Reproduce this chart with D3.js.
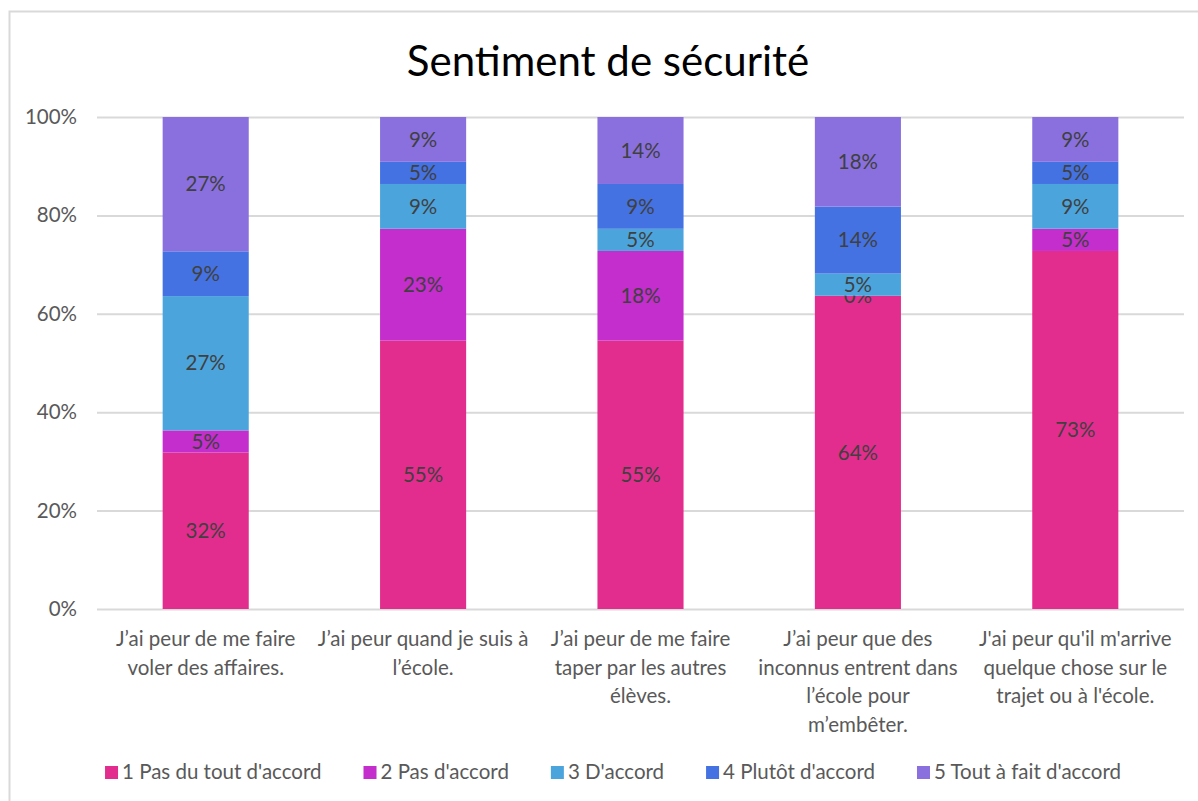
<!DOCTYPE html>
<html>
<head>
<meta charset="utf-8">
<script src="https://cdn.jsdelivr.net/npm/d3@7"></script>
<style>
    body { margin: 0; background: #fff; }
    svg { display: block; font-family: Lato, "Open Sans", sans-serif; }
</style>
</head>
<body>
<svg id="chart" width="1198" height="801"></svg>
<script>
// categories (lines as they wrap under each bar)
var categories = ['q1', 'q2', 'q3', 'q4', 'q5']
var categoryLines = [
    ['J’ai peur de me faire', 'voler des affaires.'],
    ['J’ai peur quand je suis à', 'l’école.'],
    ['J’ai peur de me faire', 'taper par les autres', 'élèves.'],
    ['J’ai peur que des', 'inconnus entrent dans', 'l’école pour', 'm’embêter.'],
    ["J'ai peur qu'il m'arrive", 'quelque chose sur le', "trajet ou à l'école."]
]

var seriesNames = ['1 Pas du tout d\'accord', '2 Pas d\'accord', '3 D\'accord', '4 Plutôt d\'accord', '5 Tout à fait d\'accord']
// percent of answers, per category
var pasDuTout = [31.8, 54.5, 54.5, 63.6, 72.7]
var pasDaccord = [4.5, 22.7, 18.2, 0, 4.5]
var daccord = [27.3, 9.1, 4.5, 4.5, 9.1]
var plutot = [9.1, 4.5, 9.1, 13.6, 4.5]
var toutAFait = [27.3, 9.1, 13.6, 18.2, 9.1]

var yTicks = [0, 0.2, 0.4, 0.6, 0.8, 1]
var colors = ['#e32d8e', '#c42ecc', '#4ba5dc', '#4472e2', '#8a70df']

var fs = 20.5

/////// table for d3.stack
var allSeries = [pasDuTout, pasDaccord, daccord, plutot, toutAFait]
var rows = categories.map(function (c, i) {
    var r = { cat: c }
    seriesNames.forEach(function (s, j) { r[s] = allSeries[j][i] })
    return r
})

var stacked = d3.stack()
    .keys(seriesNames)
    .offset(d3.stackOffsetExpand)(rows)

var svg = d3.select('#chart')

// chart area frame
svg.append('rect')
    .attr('x', 9.5).attr('y', 11.5)
    .attr('width', 1230).attr('height', 830)
    .attr('fill', 'none')
    .attr('stroke', '#d9d9d9')
    .attr('stroke-width', 2)

svg.append('text')
    .attr('x', 608).attr('y', 76)
    .attr('text-anchor', 'middle')
    .attr('font-size', 42)
    .attr('fill', '#000')
    .text('Sentiment de sécurité')

var x = d3.scaleBand()
    .domain(categories)
    .range([97, 1184])
    .paddingInner(0.604)
    .paddingOuter(0.302)

var y = d3.scaleLinear().domain([0, 1]).range([609, 117])

//////// grid + y labels
var yAxis = d3.axisLeft(y)
    .tickValues(yTicks)
    .tickFormat(d3.format('.0%'))
    .tickSize(-(1184 - 97))
    .tickPadding(20)

var gy = svg.append('g')
    .attr('transform', 'translate(97,0)')
    .call(yAxis)
gy.select('.domain').remove()
gy.selectAll('.tick line').attr('stroke', '#d9d9d9').attr('stroke-width', 2)
gy.selectAll('.tick text')
    .attr('font-size', fs)
    .attr('fill', '#595959')
    .attr('font-family', 'Lato, sans-serif')

//////// bars
var layer = svg.selectAll('g.layer')
    .data(stacked)
    .enter().append('g')
    .attr('class', 'layer')
    .attr('fill', function (d, i) { return colors[i] })

layer.selectAll('rect')
    .data(function (d) { return d })
    .enter().append('rect')
    .attr('x', function (d) { return x(d.data.cat) })
    .attr('width', x.bandwidth())
    .attr('y', function (d) { return y(d[1]) })
    .attr('height', function (d) { return y(d[0]) - y(d[1]) })

// data labels (the 0% one sits on its boundary, like the original)
layer.each(function (s) {
    d3.select(this).selectAll('text')
        .data(s)
        .enter().append('text')
        .attr('x', function (d) { return x(d.data.cat) + x.bandwidth() / 2 })
        .attr('y', function (d) { return (y(d[0]) + y(d[1])) / 2 })
        .attr('dy', '0.35em')
        .attr('text-anchor', 'middle')
        .attr('font-size', fs)
        .attr('fill', '#404040')
        .text(function (d) { return Math.round(d.data[s.key]) + '%' })
})

//////// category labels
var gx = svg.append('g')
categories.forEach(function (c, i) {
    var t = gx.append('text')
        .attr('x', x(c) + x.bandwidth() / 2)
        .attr('y', 646)
        .attr('text-anchor', 'middle')
        .attr('font-size', fs)
        .attr('fill', '#595959')
    categoryLines[i].forEach(function (line, k) {
        t.append('tspan')
            .attr('x', x(c) + x.bandwidth() / 2)
            .attr('dy', k == 0 ? 0 : 28.7)
            .text(line)
    })
})

//////// legend
var legend = svg.append('g').attr('transform', 'translate(0,772)')
var items = legend.selectAll('g')
    .data(seriesNames)
    .enter().append('g')

items.append('rect')
    .attr('y', -6)
    .attr('width', 13).attr('height', 13)
    .attr('fill', function (d, i) { return colors[i] })

items.append('text')
    .attr('x', 17)
    .attr('dy', '0.35em')
    .attr('font-size', fs)
    .attr('fill', '#595959')
    .text(function (d) { return d })

// lay items out side by side, centred
var gap = 42
var widths = []
items.each(function () { widths.push(this.getBBox().width) })
var total = d3.sum(widths) + gap * (widths.length - 1)
var pos = 613 - total / 2
items.attr('transform', function (d, i) {
    var p = pos
    pos += widths[i] + gap
    return 'translate(' + p + ',0)'
})
</script>
</body>
</html>
